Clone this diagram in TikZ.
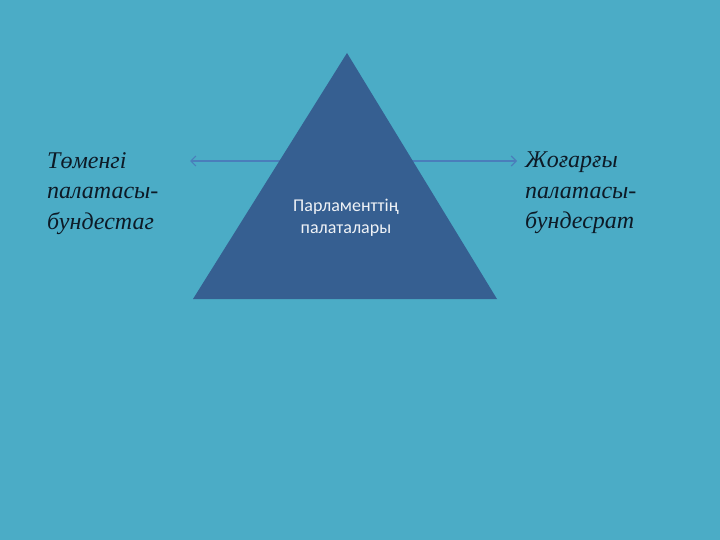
\documentclass[tikz,border=0pt]{standalone}
\usepackage{fontspec}
\setmainfont{Liberation Serif}
\newfontfamily\bodyfont{Carlito}
\usetikzlibrary{arrows.meta}

\definecolor{slidebg}{HTML}{4BACC6}
\definecolor{pyramid}{HTML}{365F91}
\definecolor{linkline}{HTML}{4A7EBB}
\definecolor{sidetext}{HTML}{0D1A26}

\begin{document}
\begin{tikzpicture}[x=1pt,y=-1pt]
\tikzstyle{chamber}=[anchor=north west,inner sep=0pt,align=left,text=sidetext,font=\fontsize{24}{30.5}\selectfont\itshape]
\tikzstyle{link}=[draw=linkline,line width=1.2pt,-{Straight Barb[length=5pt,width=10pt]}]
\fill[slidebg] (0,0) rectangle (720,540);
\useasboundingbox (0,0) rectangle (720,540);

\coordinate (hub) at (347,161);
\coordinate (lowtip) at (190,161);
\coordinate (uptip) at (517,161);
\node[chamber](lower) at (47,152) {Төменгі\\палатасы-\\бундестаг};
\node[chamber](upper) at (525,152) {Жоғарғы\\палатасы-\\бундесрат};

\draw[link] (hub) -- (lowtip);
\draw[link] (hub) -- (uptip);

\fill[pyramid] (347,53) coordinate (apex) -- (497,299) coordinate (right) -- (193,299) coordinate (left) -- cycle;
\node[text=white!92!pyramid,align=center,font=\bodyfont\fontsize{18}{22}\selectfont](title) at (346,218) {Парламенттің\\палаталары};
\end{tikzpicture}
\end{document}
